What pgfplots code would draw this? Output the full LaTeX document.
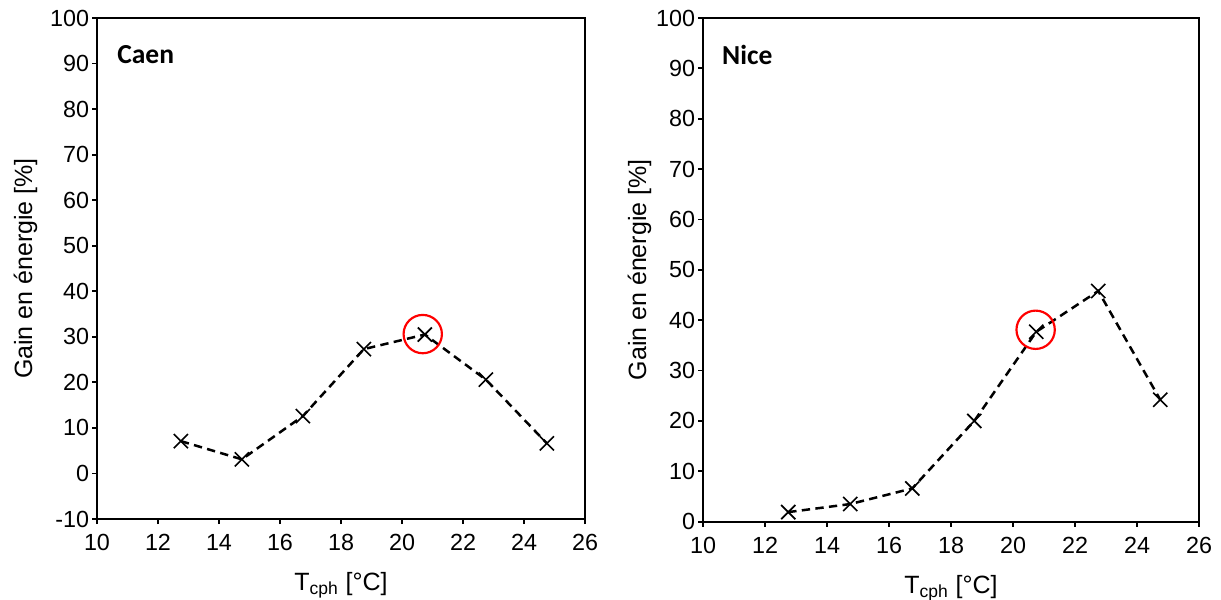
\documentclass[border=0pt]{standalone}
\usepackage{pgfplots}
\pgfplotsset{compat=1.18}
\usepackage{fontspec}
\setmainfont{Liberation Sans}
\newfontfamily\calibri{Carlito}

\pgfplotsset{
  myaxis/.style={
    scale only axis,
    clip=false,
    xmin=10, xmax=26, xtick={10,12,...,26},
    axis line style={line width=1.4pt},
    tick style={line width=1.1pt, black},
    tick align=outside, major tick length=3pt,
    xtick pos=lower, ytick pos=left,
    ticklabel style={font=\fontsize{14}{16}\selectfont, inner sep=0pt},
    xticklabel style={anchor=north, yshift=-6pt},
    yticklabel style={anchor=east, xshift=-1.5pt},
    /pgf/number format/assume math mode=true,
    label style={font=\fontsize{15}{18}\selectfont, inner sep=0pt},
    xlabel={T\textsubscript{cph} [°C]},
    ylabel={Gain en énergie [\%]},
    xlabel style={at={(axis description cs:0.5,-0.142)}, anchor=base},
  },
  curve/.style={black, line width=1.5pt, dash pattern=on 5pt off 3.2pt,
    mark=x, mark size=6pt, mark options={solid, line width=1pt}},
  ring/.style={red, only marks, mark=o, mark size=11.5pt, mark options={line width=1.3pt}},
}

\begin{document}
\begin{tikzpicture}
\useasboundingbox (0,0) rectangle (732.6pt,359.4pt);

\begin{axis}[myaxis,
  at={(58.2pt,48pt)}, anchor=south west,
  width=292.8pt, height=300.6pt,
  ymin=-10, ymax=100, ytick={-10,0,...,100},
  ylabel style={at={(axis description cs:-0.1465,0.5)}, anchor=center},
]
\addplot[curve] coordinates {
  (12.75,7.1) (14.75,3.1) (16.75,12.6) (18.75,27.3) (20.75,30.5) (22.75,20.6) (24.75,6.6)
};
\addplot[ring] coordinates {(20.68,30.6)};
\node[anchor=west, inner sep=0pt, font=\calibri\bfseries\fontsize{16.5}{20}\selectfont]
  at (axis description cs:0.041,0.926) {Caen};
\end{axis}

\begin{axis}[myaxis,
  at={(421.8pt,46.4pt)}, anchor=south west,
  width=297.6pt, height=302.2pt,
  ymin=0, ymax=100, ytick={0,10,...,100},
  ylabel style={at={(axis description cs:-0.128,0.5)}, anchor=center},
]
\addplot[curve] coordinates {
  (12.75,1.9) (14.75,3.5) (16.75,6.6) (18.75,20.0) (20.75,37.7) (22.75,45.8) (24.75,24.2)
};
\addplot[ring] coordinates {(20.73,38.1)};
\node[anchor=west, inner sep=0pt, font=\calibri\bfseries\fontsize{16.5}{20}\selectfont]
  at (axis description cs:0.038,0.926) {Nice};
\end{axis}
\end{tikzpicture}
\end{document}
